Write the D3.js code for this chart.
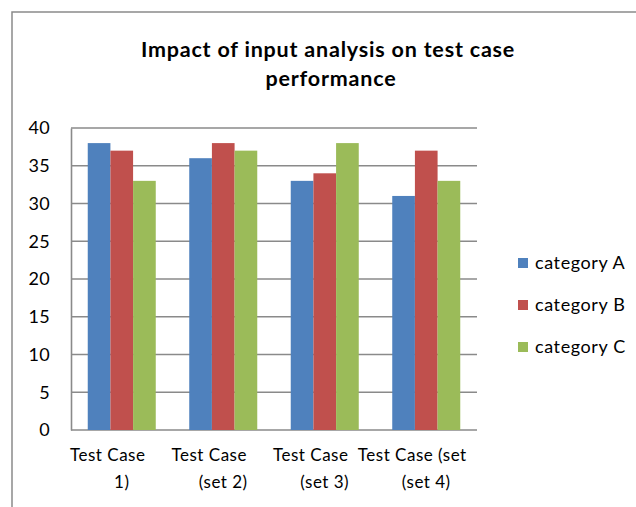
<!DOCTYPE html>
<html>
<head>
<meta charset="utf-8">
<script src="https://cdn.jsdelivr.net/npm/d3@7"></script>
<style>
  body { margin: 0; background: #fff; }
  svg { display: block; font-family: Lato, "Open Sans", sans-serif; }
</style>
</head>
<body>
<div id="chart"></div>
<script>
// chart data
const categories = ["Test Case 1)", "Test Case (set 2)", "Test Case (set 3)", "Test Case (set 4)"];
const labelLines = [["Test Case", "1)"], ["Test Case", "(set 2)"], ["Test Case", "(set 3)"], ["Test Case (set", "(set 4)"]];
const seriesNames = ["category A", "category B", "category C"];
const categoryA = [38, 36, 33, 31];
const categoryB = [37, 38, 34, 37];
const categoryC = [33, 37, 38, 33];
const yTicks = [0, 5, 10, 15, 20, 25, 30, 35, 40];
const colors = ["#4F81BD", "#C0504D", "#9BBB59"];

const series = [categoryA, categoryB, categoryC];

const width = 636;
const height = 507;
const plot = { left: 71, top: 128, right: 477, bottom: 430 };

const svg = d3.select("#chart")
  .append("svg")
  .attr("width", width)
  .attr("height", height);

// outer chart frame (only left and top edges visible)
svg.append("path")
  .attr("d", `M12,${height} V12 H${width}`)
  .attr("fill", "none")
  .attr("stroke", "#8a8a8a")
  .attr("stroke-width", 1.5);

// title
const title = svg.append("text")
  .attr("text-anchor", "middle")
  .attr("font-weight", "bold")
  .attr("font-size", 21.5)
  .attr("letter-spacing", 0.8)
  .attr("fill", "#000");
title.append("tspan").attr("x", 328).attr("y", 57).text("Impact of input analysis on test case");
title.append("tspan").attr("x", 331).attr("y", 86).text("performance");

const x0 = d3.scaleBand()
  .domain(categories)
  .range([plot.left, plot.right])
  .paddingInner(0.33)
  .paddingOuter(0.165);

const x1 = d3.scaleBand()
  .domain(seriesNames)
  .range([0, x0.bandwidth()]);

const y = d3.scaleLinear()
  .domain([0, 40])
  .range([plot.bottom, plot.top]);

// gridlines
svg.append("g")
  .selectAll("line")
  .data(yTicks)
  .enter()
  .append("line")
  .attr("x1", plot.left)
  .attr("x2", plot.right)
  .attr("y1", d => y(d))
  .attr("y2", d => y(d))
  .attr("stroke", "#8a8a8a")
  .attr("stroke-width", 1.6);

// bars
const groups = svg.append("g")
  .selectAll("g")
  .data(categories)
  .enter()
  .append("g")
  .attr("transform", d => `translate(${x0(d)},0)`);

groups.selectAll("rect")
  .data((d, i) => series.map((s, j) => ({ name: seriesNames[j], value: s[i], color: colors[j] })))
  .enter()
  .append("rect")
  .attr("x", d => x1(d.name))
  .attr("width", x1.bandwidth())
  .attr("y", d => y(d.value))
  .attr("height", d => y(0) - y(d.value))
  .attr("fill", d => d.color);

// y axis
const yAxis = svg.append("g")
  .attr("transform", `translate(${plot.left},0)`)
  .call(d3.axisLeft(y).tickValues(yTicks).tickSize(0).tickPadding(21));
yAxis.select(".domain").attr("stroke", "#8a8a8a").attr("stroke-width", 1.6);
yAxis.selectAll("text")
  .attr("font-size", 18)
  .attr("letter-spacing", 0.3)
  .attr("font-family", "Lato, 'Open Sans', sans-serif")
  .attr("fill", "#000");

// x axis labels
const xLabels = svg.append("g")
  .selectAll("text")
  .data(categories)
  .enter()
  .append("text")
  .attr("text-anchor", "middle")
  .attr("font-size", 17)
  .attr("letter-spacing", 0.5)
  .attr("fill", "#000");
xLabels.append("tspan")
  .attr("x", d => x0(d) + x0.bandwidth() / 2 - 14)
  .attr("y", 461)
  .text((d, i) => labelLines[i][0]);
xLabels.append("tspan")
  .attr("x", d => x0(d) + x0.bandwidth() / 2)
  .attr("y", 488)
  .text((d, i) => labelLines[i][1]);

// legend
const legend = svg.append("g")
  .selectAll("g")
  .data(seriesNames)
  .enter()
  .append("g")
  .attr("transform", (d, i) => `translate(518,${263 + i * 42})`);

legend.append("rect")
  .attr("x", 0)
  .attr("y", -5)
  .attr("width", 10)
  .attr("height", 10)
  .attr("fill", (d, i) => colors[i]);

legend.append("text")
  .attr("x", 17)
  .attr("y", 6)
  .attr("font-size", 18)
  .attr("letter-spacing", 0.6)
  .attr("fill", "#000")
  .text(d => d);
</script>
</body>
</html>
